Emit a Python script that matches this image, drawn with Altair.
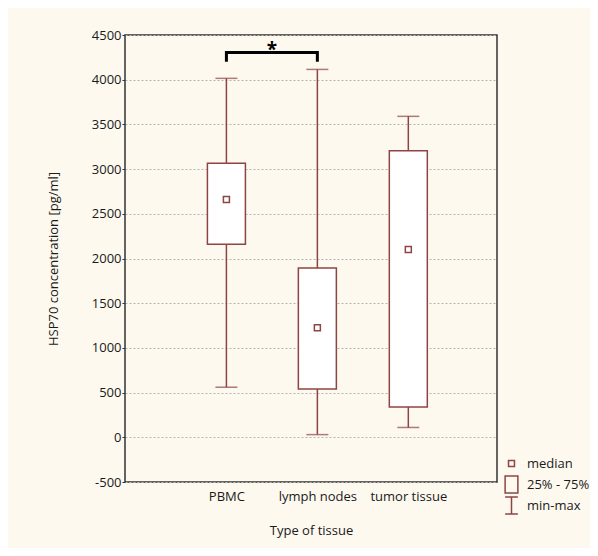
import altair as alt
import pandas as pd

# ---- data ----
tissues = ["PBMC", "lymph nodes", "tumor tissue"]
positions = [1, 2, 3]
mins = [560, 30, 110]
q1s = [2160, 540, 340]
medians = [2660, 1225, 2100]
q3s = [3065, 1895, 3205]
maxs = [4015, 4115, 3590]

bracket_x = [1, 1, 2, 2]
bracket_y = [4200, 4305, 4305, 4200]
star_x = [1.5]
star_y = [4335]
star_text = ["*"]

legend_items = ["median", "25% - 75%", "min-max"]
legend_paths = [
    "M-0.35,-0.35H0.35V0.35H-0.35Z",
    "M-0.75,-1H0.75V1H-0.75Z",
    "M-0.75,-1H0.75M0,-1V1M-0.75,1H0.75",
]
y_ticks = list(range(-500, 5000, 500))

BROWN = "#8f4444"
FONT = "Open Sans"

df = pd.DataFrame({
    "tissue": tissues, "pos": positions, "min": mins, "q1": q1s,
    "median": medians, "q3": q3s, "max": maxs,
})
bracket_df = pd.DataFrame({"x": bracket_x, "y": bracket_y, "order": range(len(bracket_x))})
star_df = pd.DataFrame({"x": star_x, "y": star_y, "t": star_text})
legend_df = pd.DataFrame({"item": legend_items})

label_expr = " : ".join(
    f"datum.value == {p} ? '{t}'" for p, t in zip(positions[:-1], tissues[:-1])
) + f" : '{tissues[-1]}'"

xscale = alt.Scale(domain=[-0.06, 3.92], nice=False, zero=False)
yscale = alt.Scale(domain=[-500, 4500], nice=False, zero=False)

xaxis = alt.Axis(values=positions, labelExpr=label_expr, title="Type of tissue",
                 grid=False, ticks=False, domain=False, labelPadding=8,
                 titlePadding=21, labelFontSize=13, titleFontSize=13,
                 labelColor="#1a1a1a", titleColor="#1a1a1a", labelFont=FONT,
                 titleFont=FONT, titleFontWeight="normal")
yaxis = alt.Axis(values=y_ticks, labelExpr="datum.value + ''",
                 title="HSP70 concentration [pg/ml]",
                 grid=True, gridDash=[2, 2], gridColor="#b5b5b5", gridWidth=1,
                 ticks=True, tickSize=3, tickColor="#333", domain=False,
                 labelPadding=1, titlePadding=31, labelFontSize=13,
                 titleFontSize=13, labelColor="#1a1a1a", titleColor="#1a1a1a",
                 labelFont=FONT, titleFont=FONT, titleFontWeight="normal")

X = alt.X("pos:Q", scale=xscale, axis=xaxis)

whisker = alt.Chart(df).mark_rule(color=BROWN, strokeWidth=1.5).encode(
    x=X, y=alt.Y("min:Q", scale=yscale, axis=yaxis), y2="max:Q")

box = alt.Chart(df).mark_bar(size=38, fill="white", stroke=BROWN,
                             strokeWidth=1.5).encode(
    x=X, y=alt.Y("q1:Q", scale=yscale, axis=yaxis), y2="q3:Q")

cap_lo = alt.Chart(df).mark_tick(orient="horizontal", size=22, thickness=1.5,
                                 color=BROWN).encode(
    x=X, y=alt.Y("min:Q", scale=yscale, axis=yaxis))
cap_hi = alt.Chart(df).mark_tick(orient="horizontal", size=22, thickness=1.5,
                                 color=BROWN).encode(
    x=X, y=alt.Y("max:Q", scale=yscale, axis=yaxis))

med = alt.Chart(df).mark_point(shape="square", size=36, filled=False,
                               color=BROWN, strokeWidth=1.5, opacity=1).encode(
    x=X, y=alt.Y("median:Q", scale=yscale, axis=yaxis))

bracket = alt.Chart(bracket_df).mark_line(color="black", strokeWidth=3,
                                          strokeJoin="miter").encode(
    x=alt.X("x:Q", scale=xscale, axis=xaxis),
    y=alt.Y("y:Q", scale=yscale, axis=yaxis),
    order="order:Q")

star = alt.Chart(star_df).mark_text(fontSize=19, fontWeight="bold", font=FONT,
                                    color="black", baseline="middle").encode(
    x=alt.X("x:Q", scale=xscale, axis=xaxis),
    y=alt.Y("y:Q", scale=yscale, axis=yaxis),
    text="t:N")

legend_layer = alt.Chart(legend_df).mark_point(filled=False, color=BROWN,
                                               opacity=0).encode(
    shape=alt.Shape("item:N",
                    scale=alt.Scale(domain=legend_items, range=legend_paths),
                    legend=alt.Legend(title=None, orient="none", legendX=377,
                                      legendY=419, symbolSize=289,
                                      symbolStrokeColor=BROWN,
                                      symbolStrokeWidth=1.5,
                                      symbolFillColor="transparent",
                                      symbolOpacity=1, labelOffset=6,
                                      labelFontSize=13, labelFont=FONT,
                                      labelColor="#1a1a1a", rowPadding=-4.5,
                                      gridAlign="all", padding=0)))

chart = alt.layer(whisker, box, cap_lo, cap_hi, med, bracket, star,
                  legend_layer).properties(
    width=372, height=447,
    background="#fdf9ef",
    padding={"left": 117, "top": 27, "right": 93, "bottom": 66},
    autosize=alt.AutoSizeParams(type="none"),
).configure_view(stroke="#333", strokeWidth=1.5, fill="white")

chart.save("out.html", embed_options={"renderer": "svg", "actions": False})
